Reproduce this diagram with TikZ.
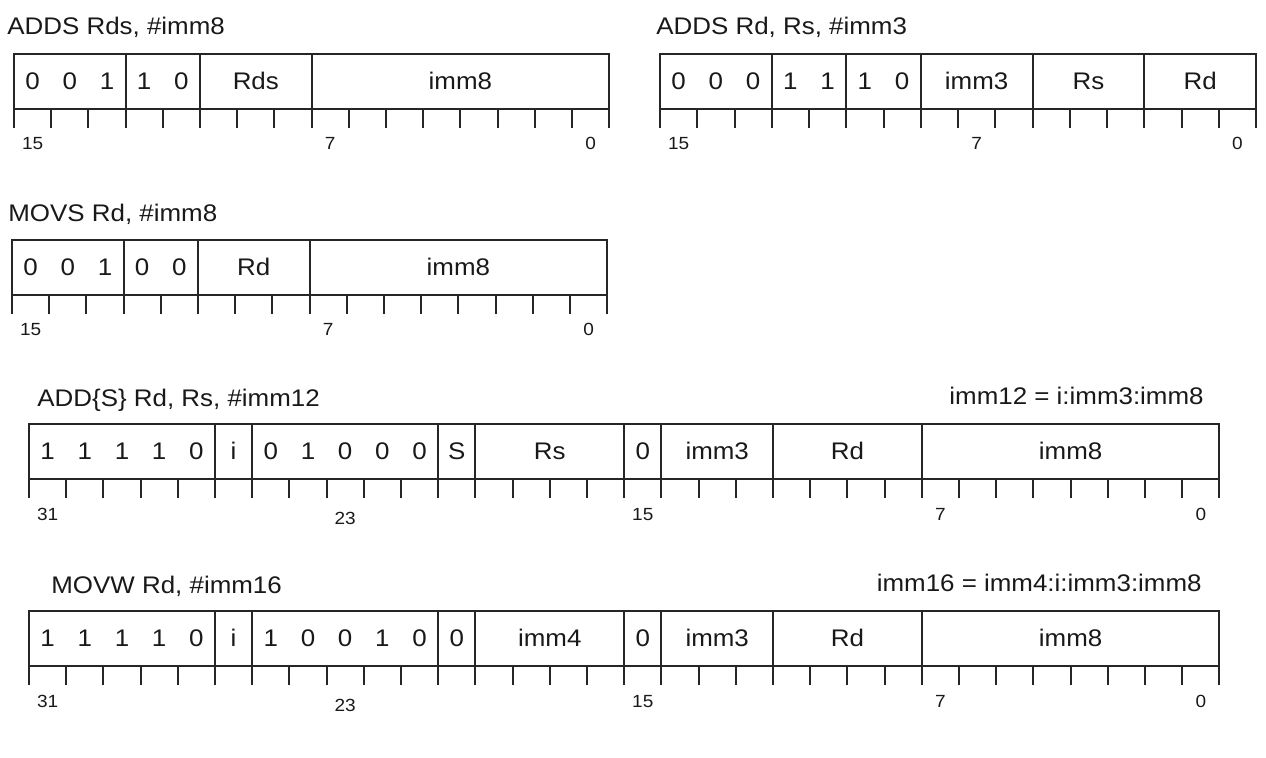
\documentclass[tikz,border=0pt]{standalone}
\usepackage{fontspec}
\setmainfont{Liberation Sans}[FakeStretch=1.08]
\tikzset{
  regline/.style={line width=1pt, draw=black!85},
  fld/.style={font=\fontsize{12}{14}\selectfont, anchor=base, inner sep=0pt, text=black!90},
  ttl/.style={font=\fontsize{12}{14}\selectfont, anchor=base west, inner sep=0pt, text=black!90},
  ttr/.style={font=\fontsize{12}{14}\selectfont, anchor=base east, inner sep=0pt, text=black!90},
  bitno/.style={font=\fontsize{8.8}{10}\selectfont, anchor=base, inner sep=0pt, text=black!90}
}
% #1 x0, #2 top, #3 bottom, #4 number of bits, #5 field boundaries, #6 bit width
\newcommand{\regframe}[6]{%
  \draw[regline] (#1,#2) rectangle ({#1+#4*#6},#3);
  \foreach \k in {0,...,#4} \draw[regline] ({#1+\k*#6},#3) -- ({#1+\k*#6},{#3+19});
  \foreach \k in {#5} \draw[regline] ({#1+\k*#6},#2) -- ({#1+\k*#6},#3);
}
\begin{document}
\begin{tikzpicture}[x=0.5pt,y=-0.5pt]
\useasboundingbox[fill=white] (0,0) rectangle (1266,758);

% ---------- ADDS Rds, #imm8 ----------
\node[ttl] (t1) at (7,35) {ADDS Rds, \#imm8};
\regframe{14}{54}{109}{16}{3,5,8}{37.2}
\foreach \t [count=\j from 0] in {0,0,1,1,0}
  \node[fld] (r1b\j) at ({14+(\j+0.5)*37.2},90) {\t};
\node[fld] (r1rds) at ({14+6.5*37.2},90) {Rds};
\node[fld] (r1imm) at ({14+12*37.2},90) {imm8};
\node[bitno] (r1n15) at ({14+0.5*37.2},150) {15};
\node[bitno] (r1n7) at ({14+8.5*37.2},150) {7};
\node[bitno] (r1n0) at ({14+15.5*37.2},150) {0};

% ---------- ADDS Rd, Rs, #imm3 ----------
\node[ttl] (t2) at (656,35) {ADDS Rd, Rs, \#imm3};
\regframe{660}{54}{109}{16}{3,5,7,10,13}{37.25}
\foreach \t [count=\j from 0] in {0,0,0,1,1,1,0}
  \node[fld] (r2b\j) at ({660+(\j+0.5)*37.25},90) {\t};
\node[fld] (r2imm) at ({660+8.5*37.25},90) {imm3};
\node[fld] (r2rs) at ({660+11.5*37.25},90) {Rs};
\node[fld] (r2rd) at ({660+14.5*37.25},90) {Rd};
\node[bitno] (r2n15) at ({660+0.5*37.25},150) {15};
\node[bitno] (r2n7) at ({660+8.5*37.25},150) {7};
\node[bitno] (r2n0) at ({660+15.5*37.25},150) {0};

% ---------- MOVS Rd, #imm8 ----------
\node[ttl] (t3) at (8,222) {MOVS Rd, \#imm8};
\regframe{12}{240}{295}{16}{3,5,8}{37.2}
\foreach \t [count=\j from 0] in {0,0,1,0,0}
  \node[fld] (r3b\j) at ({12+(\j+0.5)*37.2},276) {\t};
\node[fld] (r3rd) at ({12+6.5*37.2},276) {Rd};
\node[fld] (r3imm) at ({12+12*37.2},276) {imm8};
\node[bitno] (r3n15) at ({12+0.5*37.2},336) {15};
\node[bitno] (r3n7) at ({12+8.5*37.2},336) {7};
\node[bitno] (r3n0) at ({12+15.5*37.2},336) {0};

% ---------- ADD{S} Rd, Rs, #imm12 ----------
\node[ttl] (t4) at (37,407) {ADD\{S\} Rd, Rs, \#imm12};
\node[ttr] (t4r) at (1204,405) {imm12 = i:imm3:imm8};
\regframe{29}{424}{479}{32}{5,6,11,12,16,17,20,24}{37.2}
\foreach \t [count=\j from 0] in {1,1,1,1,0,i,0,1,0,0,0,S}
  \node[fld] (r4b\j) at ({29+(\j+0.5)*37.2},460) {\t};
\node[fld] (r4rs) at ({29+14*37.2},460) {Rs};
\node[fld] (r4z) at ({29+16.5*37.2},460) {0};
\node[fld] (r4imm3) at ({29+18.5*37.2},460) {imm3};
\node[fld] (r4rd) at ({29+22*37.2},460) {Rd};
\node[fld] (r4imm8) at ({29+28*37.2},460) {imm8};
\node[bitno] (r4n31) at ({29+0.5*37.2},521) {31};
\node[bitno] (r4n23) at ({29+8.5*37.2},525) {23};
\node[bitno] (r4n15) at ({29+16.5*37.2},521) {15};
\node[bitno] (r4n7) at ({29+24.5*37.2},521) {7};
\node[bitno] (r4n0) at ({29+31.5*37.2},521) {0};

% ---------- MOVW Rd, #imm16 ----------
\node[ttl] (t5) at (51,594) {MOVW Rd, \#imm16};
\node[ttr] (t5r) at (1202,592) {imm16 = imm4:i:imm3:imm8};
\regframe{29}{611}{666}{32}{5,6,11,12,16,17,20,24}{37.2}
\foreach \t [count=\j from 0] in {1,1,1,1,0,i,1,0,0,1,0,0}
  \node[fld] (r5b\j) at ({29+(\j+0.5)*37.2},647) {\t};
\node[fld] (r5imm4) at ({29+14*37.2},647) {imm4};
\node[fld] (r5z) at ({29+16.5*37.2},647) {0};
\node[fld] (r5imm3) at ({29+18.5*37.2},647) {imm3};
\node[fld] (r5rd) at ({29+22*37.2},647) {Rd};
\node[fld] (r5imm8) at ({29+28*37.2},647) {imm8};
\node[bitno] (r5n31) at ({29+0.5*37.2},708) {31};
\node[bitno] (r5n23) at ({29+8.5*37.2},712) {23};
\node[bitno] (r5n15) at ({29+16.5*37.2},708) {15};
\node[bitno] (r5n7) at ({29+24.5*37.2},708) {7};
\node[bitno] (r5n0) at ({29+31.5*37.2},708) {0};
\end{tikzpicture}
\end{document}
